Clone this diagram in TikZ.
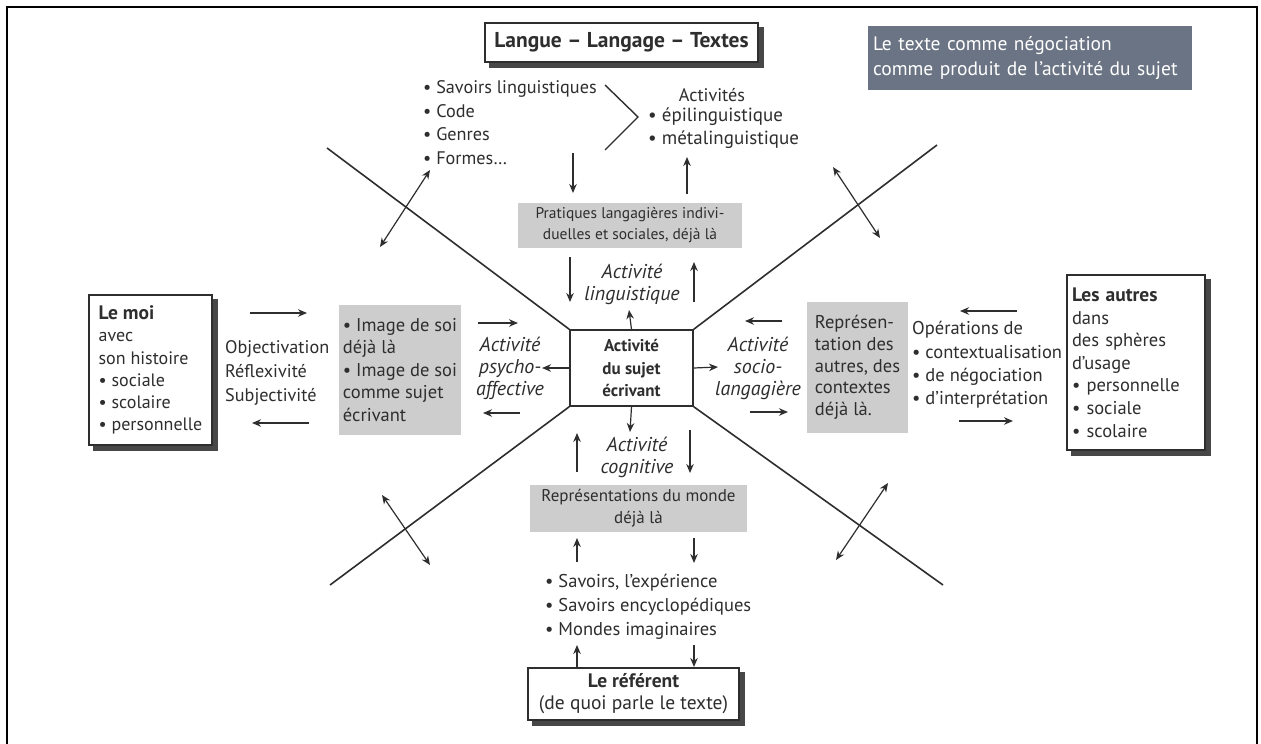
\documentclass[tikz,border=0pt]{standalone}
\usepackage{fontspec}
\setmainfont{PT Sans}
\usetikzlibrary{arrows.meta,calc}
\definecolor{ink}{HTML}{2E2E2E}
\definecolor{graybox}{HTML}{CDCDCD}
\definecolor{slate}{HTML}{6B7484}
\definecolor{shadowc}{HTML}{474747}
\newcommand{\fs}[2]{\fontsize{#1}{#2}\selectfont}
\newcommand{\boxshadow}[1]{%
  \fill[shadowc] ($(#1.north east)+(0.6,5)$) rectangle ($(#1.south east)+(5,5)$);
  \fill[shadowc] ($(#1.south west)+(5,0.6)$) rectangle ($(#1.south east)+(5,5)$);}
\tikzset{
  ln/.style={draw=ink, line width=1.6pt},
  arr/.style={draw=ink, line width=1.2pt, -{Stealth[length=9pt,width=7.5pt]}},
  darr/.style={draw=ink, line width=1.2pt, {Stealth[length=9pt,width=7.5pt]}-{Stealth[length=9pt,width=7.5pt]}},
  txt/.style={text=ink, inner sep=0pt, font=\fs{18.2}{23.5}},
  ital/.style={text=ink, inner sep=0pt, align=center, font=\fs{20}{22}\itshape},
  wbox/.style={draw=ink, line width=1.3pt, fill=white, text=ink},
  gbox/.style={fill=graybox, text=ink}
}
\begin{document}
\begin{tikzpicture}[x=1pt,y=-1pt]
\useasboundingbox (0,0) rectangle (1261,744);
\fill[white] (0,0) rectangle (1261,744);
% frame
\coordinate (f1) at (7,744);
\coordinate (f2) at (7,7);
\coordinate (f3) at (1257,7);
\coordinate (f4) at (1257,744);
\draw[draw=black, line width=1.6pt] (f1) -- (f2) -- (f3) -- (f4);

% centre box and diagonals
\node[draw=ink, line width=1.4pt, fill=white, minimum width=123pt, minimum height=76pt, inner sep=0pt, align=center, text=ink, font=\fs{17}{22.5}\bfseries] (ctr) at (631.5,368) {Activité\\du sujet\\écrivant};
\coordinate (tl) at (327,148);
\coordinate (tr) at (937,145);
\coordinate (bl) at (330,585);
\coordinate (br) at (943,585);
\draw[ln] (tl) -- (ctr.north west);
\draw[ln] (tr) -- (ctr.north east);
\draw[ln] (bl) -- (ctr.south west);
\draw[ln] (br) -- (ctr.south east);

% double arrows across the diagonals
\coordinate (d1a) at (380,247); \coordinate (d1b) at (430,170);
\coordinate (d2a) at (833,167); \coordinate (d2b) at (880,238);
\coordinate (d3a) at (382,495); \coordinate (d3b) at (430,565);
\coordinate (d4a) at (836,560); \coordinate (d4b) at (888,483);
\draw[darr] (d1a) -- (d1b);
\draw[darr] (d2a) -- (d2b);
\draw[darr] (d3a) -- (d3b);
\draw[darr] (d4a) -- (d4b);

% top title
\node[wbox, minimum width=273pt, minimum height=39pt, inner sep=0pt, font=\fs{21.5}{24}\bfseries] (lang) at (621.5,42.5) {Langue -- Langage -- Textes};
\boxshadow{lang}
% dark box
\node[fill=slate, text=white, minimum width=324pt, minimum height=64pt, inner xsep=5pt, inner ysep=0pt, text width=314pt, align=left, font=\fs{19.5}{25}] (neg) at (1030,58) {Le texte comme négociation\\comme produit de l’activité du sujet};

% top lists
\node[txt, anchor=west, align=left] (savoirs) at (423,122.5) {• Savoirs linguistiques\\• Code\\• Genres\\• Formes…};
\node[txt] (activites) at (712,95) {Activités};
\node[txt, anchor=west, align=left, font=\fs{19}{23}] (epi) at (648,128.5) {• épilinguistique\\• métalinguistique};
\coordinate (b1) at (605,85); \coordinate (b2) at (638,117); \coordinate (b3) at (605,150);
\draw[ln, line width=1.4pt] (b1) -- (b2) -- (b3);

\coordinate (a1s) at (573,153); \coordinate (a1e) at (573,193);
\coordinate (a2s) at (687,194); \coordinate (a2e) at (687,157);
\draw[arr] (a1s) -- (a1e);
\draw[arr] (a2s) -- (a2e);

% pratiques
\node[gbox, minimum width=224pt, minimum height=45pt, inner sep=0pt, align=center, font=\fs{15.5}{21}] (prat) at (630,225.5) {Pratiques langagières indivi-\\duelles et sociales, déjà là};
\coordinate (a3s) at (570,257); \coordinate (a3e) at (570,302);
\coordinate (a4s) at (694,302); \coordinate (a4e) at (694,262);
\draw[arr] (a3s) -- (a3e);
\draw[arr] (a4s) -- (a4e);
\node[ital] (aling) at (632,284) {Activité\\linguistique};
\coordinate (a5e) at (629,310);
\draw[arr] (ctr.north) -- (a5e);

% left side
\node[wbox, minimum width=123pt, minimum height=150pt, inner sep=0pt, align=left, font=\fs{18}{22.2}] (moi) at (150.5,370) {{\fs{19.5}{22.2}\bfseries Le moi}\\avec\\son histoire\\• sociale\\• scolaire\\• personnelle};
\boxshadow{moi}
\node[txt, anchor=west, align=left, font=\fs{18.2}{24}] (obj) at (225,373) {Objectivation\\Réflexivité\\Subjectivité};
\coordinate (a6s) at (250,313); \coordinate (a6e) at (307,313);
\coordinate (a7s) at (309,423); \coordinate (a7e) at (252,423);
\draw[arr] (a6s) -- (a6e);
\draw[arr] (a7s) -- (a7e);
\node[gbox, minimum width=122pt, minimum height=130pt, inner sep=0pt, align=left, font=\fs{18.5}{22.5}] (soi) at (400,370) {• Image de soi\\déjà là\\• Image de soi\\comme sujet\\écrivant};
\coordinate (a8s) at (478,323); \coordinate (a8e) at (518,323);
\coordinate (a9s) at (520,413); \coordinate (a9e) at (483,413);
\draw[arr] (a8s) -- (a8e);
\draw[arr] (a9s) -- (a9e);
\node[ital] (apsy) at (510,368) {Activité\\psycho-\\affective};
\coordinate (a10e) at (542,368);
\draw[arr] (ctr.west) -- (a10e);

% right side
\coordinate (a11e) at (718,367);
\draw[arr] (ctr.east) -- (a11e);
\node[ital] (asoc) at (758,368) {Activité\\socio-\\langagière};
\coordinate (a12s) at (782,321); \coordinate (a12e) at (745,321);
\coordinate (a13s) at (750,412); \coordinate (a13e) at (788,412);
\draw[arr] (a12s) -- (a12e);
\draw[arr] (a13s) -- (a13e);
\node[gbox, minimum width=101pt, minimum height=131pt, inner sep=0pt, align=left, font=\fs{18.5}{21.7}] (repr) at (857.5,367.5) {Représen-\\tation des\\autres, des\\contextes\\déjà là.};
\node[txt, anchor=west, align=left, font=\fs{18.5}{23.3}] (oper) at (912,365) {Opérations de\\• contextualisation\\• de négociation\\• d’interprétation};
\coordinate (a14s) at (1017,311); \coordinate (a14e) at (960,311);
\coordinate (a15s) at (959,421); \coordinate (a15e) at (1013,421);
\draw[arr] (a14s) -- (a14e);
\draw[arr] (a15s) -- (a15e);
\node[wbox, minimum width=138pt, minimum height=175pt, inner xsep=5pt, inner ysep=0pt, text width=128pt, align=left, font=\fs{18.5}{22.6}] (autres) at (1136,362.5) {{\fs{19.5}{22.6}\bfseries Les autres}\\dans\\des sphères\\d’usage\\• personnelle\\• sociale\\• scolaire};
\boxshadow{autres}

% bottom
\coordinate (a16e) at (630,432);
\draw[arr] (ctr.south) -- (a16e);
\coordinate (a17s) at (577,472); \coordinate (a17e) at (577,433);
\coordinate (a18s) at (690,430); \coordinate (a18e) at (690,473);
\draw[arr] (a17s) -- (a17e);
\draw[arr] (a18s) -- (a18e);
\node[ital] (acog) at (637,457) {Activité\\cognitive};
\node[gbox, minimum width=217pt, minimum height=47pt, inner sep=0pt, align=center, font=\fs{17}{22}] (monde) at (638.5,508.5) {Représentations du monde\\déjà là};
\coordinate (a19s) at (577,562); \coordinate (a19e) at (577,538);
\coordinate (a20s) at (694,538); \coordinate (a20e) at (694,563);
\draw[arr] (a19s) -- (a19e);
\draw[arr] (a20s) -- (a20e);
\node[txt, anchor=west, align=left, font=\fs{18.5}{24}] (exp) at (545,607) {• Savoirs, l’expérience\\• Savoirs encyclopédiques\\• Mondes imaginaires};
\node[wbox, minimum width=211pt, minimum height=52pt, inner sep=0pt, align=center, font=\fs{19.5}{22}] (ref) at (633.5,694) {{\bfseries Le référent}\\(de quoi parle le texte)};
\boxshadow{ref}
\coordinate (a21s) at (577,667); \coordinate (a21e) at (577,645);
\coordinate (a22s) at (694,645); \coordinate (a22e) at (694,667);
\draw[arr] (a21s) -- (a21e);
\draw[arr] (a22s) -- (a22e);
\end{tikzpicture}
\end{document}
